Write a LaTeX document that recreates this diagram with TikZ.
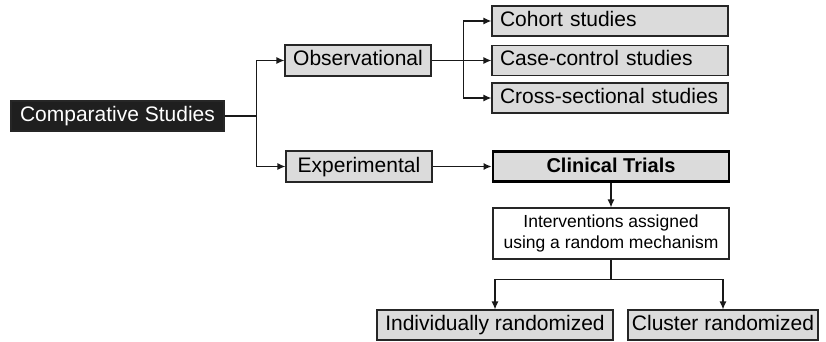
\documentclass[tikz,border=0pt]{standalone}
\usepackage{fontspec}
\setmainfont{Liberation Sans}
\usetikzlibrary{arrows.meta,calc}
\definecolor{boxgray}{gray}{0.86}
\begin{document}
\begin{tikzpicture}[x=1pt,y=-1pt,
  base/.style={draw=black!85,line width=1.1pt,fill=boxgray,inner sep=0pt,
    font=\fontsize{21}{24}\selectfont,text height=15pt,text depth=4pt},
  gbox/.style={base,minimum height=#1},
  lbox/.style={base,minimum height=30pt,inner xsep=8pt,text width=#1,align=left},
  arr/.style={draw=black!90,line width=1.3pt,-{Latex[length=8pt,width=7pt]}},
  ln/.style={draw=black!90,line width=1.3pt}]
\useasboundingbox (0,0) rectangle (826,342);
% nodes
\node[base,fill=black!88,text=white,minimum width=213pt,minimum height=30pt] (cs) at (117.5,116) {Comparative Studies};
\node[gbox=31pt,minimum width=146pt] (obs) at (358,60.5) {Observational};
\node[gbox=31pt,minimum width=146pt] (exp) at (359,166.5) {Experimental};
\node[lbox=220pt] (coh) at (610,21) {Cohort studies};
\node[lbox=220pt] (cc) at (610,60.5) {Case-control studies};
\node[lbox=220pt] (cr) at (610,98) {Cross-sectional studies};
\node[base,line width=2.8pt,draw=black,minimum width=236pt,minimum height=30pt,
  font=\fontsize{20}{24}\selectfont\bfseries] (ct) at (611,166.5) {Clinical Trials};
\node[draw=black!85,line width=1.1pt,fill=white,minimum width=236pt,minimum height=51pt,
  align=center,inner sep=0pt,font=\fontsize{17.5}{21}\selectfont] (iv) at (611,233.5)
  {Interventions assigned\\using a random mechanism};
\node[gbox=30pt,minimum width=236pt] (ind) at (495,325) {Individually randomized};
\node[gbox=30pt,minimum width=190pt] (cl) at (723,325) {Cluster randomized};
% connectors
\coordinate (j0) at ($(cs.east)+(32,0)$);
\draw[ln] (cs.east) -- (j0);
\draw[arr] (j0) |- (obs.west);
\draw[arr] (j0) |- (exp.west);
\coordinate (j1) at ($(obs.east)+(32,0)$);
\draw[arr] (obs.east) -- (cc.west);
\draw[arr] (j1) |- (coh.west);
\draw[arr] (j1) |- (cr.west);
\draw[arr] (exp.east) -- (ct.west);
\draw[arr] (ct.south) -- (iv.north);
\coordinate (j2) at ($(iv.south)+(0,20)$);
\draw[ln] (iv.south) -- (j2);
\draw[arr] (j2) -| (ind.north);
\draw[arr] (j2) -| (cl.north);
\end{tikzpicture}
\end{document}
